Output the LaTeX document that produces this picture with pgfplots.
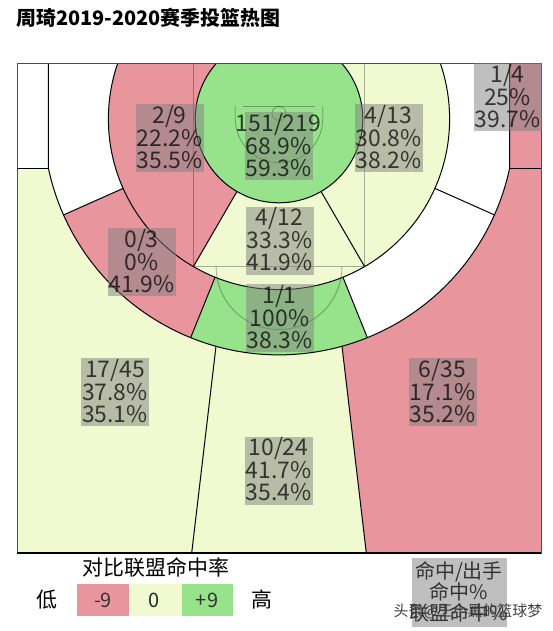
\documentclass[border=0pt]{standalone}
\usepackage{pgfplots}
\pgfplotsset{compat=1.18}
\usepackage{pgfplotstable}
\usepackage{fontspec}
\setmainfont{Noto Sans CJK SC}
\definecolor{zred}{RGB}{232,149,158}
\definecolor{zyel}{RGB}{241,249,208}
\definecolor{zgrn}{RGB}{151,227,139}
\definecolor{boxgray}{RGB}{128,128,128}

% zone label position (px), made/attempts, FG%, league FG%
\pgfplotstableread{
x     y     shot    pct  lg
278.5 146   151/219 68.9 59.3
169.5 138   2/9     22.2 35.5
388.5 138   4/13    30.8 38.2
279.5 240.5 4/12    33.3 41.9
141.5 262   0/3     0    41.9
279.5 318   1/1     100  38.3
115   392   17/45   37.8 35.1
442.5 392   6/35    17.1 35.2
278.5 470.5 10/24   41.7 35.4
507.5 97.5  1/4     25   39.7
}\zonedata

\pgfplotsset{zlabel/.style={draw=none, mark=none, point meta=explicit symbolic,
  every node near coord/.append style={anchor=center, inner sep=0pt,
    text=black, text opacity=0.72, font=\fontsize{23}{22}\selectfont}}}

\begin{document}
\begin{tikzpicture}
\begin{axis}[
  x=1bp, y=1bp, scale only axis,
  xmin=0, xmax=553, ymin=0, ymax=631, y dir=reverse,
  hide axis, clip=false,
]
\path (axis cs:0,0) rectangle (axis cs:553,631);

\begin{scope}
\clip (axis cs:17,64) rectangle (axis cs:541,553);
% three-point zones
\fill[zyel] (axis cs:17,64) rectangle (axis cs:541,553);
\fill[zred] (axis cs:279,119) -- (axis cs:342,346.2) -- (axis cs:366.3,553) -- (axis cs:541,553) -- (axis cs:541,64) -- (axis cs:279,64) -- cycle;
\fill[white] (axis cs:17,64) rectangle (axis cs:48.4,168.3);
% long mid-range ring
\begin{scope}
\clip (axis cs:48.4,64) -- (axis cs:48.4,168.3) arc[start angle=192.06, end angle=347.94, radius=235.8bp] -- (axis cs:509.6,64) -- cycle;
\fill[white] (axis cs:0,0) rectangle (axis cs:553,631);
\fill[zred] (axis cs:279,119) -- +(204:400bp) -- +(248:400bp) -- cycle;
\fill[zgrn] (axis cs:279,119) -- +(248:400bp) -- +(292:400bp) -- cycle;
\end{scope}
% short mid-range ring
\begin{scope}
\clip (axis cs:279,119) circle[radius=170.6bp];
\fill[zyel] (axis cs:0,0) rectangle (axis cs:553,631);
\fill[zred] (axis cs:279,119) -- +(239.89:400bp) -- +(180:400bp) -- +(90:400bp) -- cycle;
\end{scope}
% restricted area
\fill[zgrn] (axis cs:279,119) circle[radius=83.8bp];

% court lines
\begin{scope}[draw=black, draw opacity=0.3, line width=0.8bp]
\draw (axis cs:193.4,64) -- (axis cs:193.4,266.6) -- (axis cs:364.6,266.6) -- (axis cs:364.6,64);
\draw (axis cs:216.1,266.6) arc[start angle=180, end angle=360, radius=62.9bp];
\draw (axis cs:243,106) -- (axis cs:315,106);
\draw (axis cs:279,113.5) circle[radius=7bp];
\draw (axis cs:235.3,106) -- (axis cs:235.3,119) arc[start angle=180, end angle=360, radius=43.7bp] -- (axis cs:322.7,106);
\end{scope}

% zone borders
\begin{scope}[draw=black, line width=1bp]
\draw (axis cs:48.4,64) -- (axis cs:48.4,168.3) arc[start angle=192.06, end angle=347.94, radius=235.8bp] -- (axis cs:509.6,64);
\draw (axis cs:17,168.3) -- (axis cs:48.4,168.3);
\draw (axis cs:509.6,168.3) -- (axis cs:541,168.3);
\draw (axis cs:216,346.2) -- (axis cs:191.7,553);
\draw (axis cs:342,346.2) -- (axis cs:366.3,553);
\draw (axis cs:279,119) circle[radius=170.6bp];
\draw (axis cs:279,119) circle[radius=83.8bp];
\draw (axis cs:279,119) ++(204:170.6bp) -- ++(204:65.2bp);
\draw (axis cs:279,119) ++(248:170.6bp) -- ++(248:65.2bp);
\draw (axis cs:279,119) ++(292:170.6bp) -- ++(292:65.2bp);
\draw (axis cs:279,119) ++(336:170.6bp) -- ++(336:65.2bp);
\draw (axis cs:279,119) ++(239.89:83.8bp) -- ++(239.89:86.8bp);
\draw (axis cs:279,119) ++(300.11:83.8bp) -- ++(300.11:86.8bp);
\end{scope}
\end{scope}
% court border
\draw[gray!60!black, line width=1bp] (axis cs:17,64) rectangle (axis cs:541,553);
\draw[black, line width=2bp] (axis cs:17,553) -- (axis cs:541,553);

% title
\node[anchor=west, inner sep=0pt, font=\bfseries\fontsize{20}{24}\selectfont] at (axis cs:16,18) {周琦2019-2020赛季投篮热图};

% legend
\node[font=\fontsize{21}{25}\selectfont, inner sep=0pt] at (axis cs:156,568) {对比联盟命中率};
\node[font=\fontsize{21}{25}\selectfont, inner sep=0pt] at (axis cs:47,600) {低};
\node[font=\fontsize{21}{25}\selectfont, inner sep=0pt] at (axis cs:262,600) {高};
\fill[zred] (axis cs:77,584) rectangle (axis cs:129,616);
\fill[zyel] (axis cs:129,584) rectangle (axis cs:182,616);
\fill[zgrn] (axis cs:182,584) rectangle (axis cs:233,616);
\node[font=\fontsize{20}{24}\selectfont, text=black!80, inner sep=0pt] at (axis cs:103,600) {-9};
\node[font=\fontsize{20}{24}\selectfont, text=black!85, inner sep=0pt] at (axis cs:154,600) {0};
\node[font=\fontsize{20}{24}\selectfont, text=black!80, inner sep=0pt] at (axis cs:207,600) {+9};
\fill[boxgray, fill opacity=0.5] (axis cs:411.7,558) rectangle (axis cs:506.7,627);
\node[font=\fontsize{20}{21}\selectfont, text=black!80, align=center, inner sep=0pt] at (axis cs:459,591.5) {命中/出手\\命中\%\\联盟命中\%};
\node[font=\fontsize{15}{18}\selectfont, text=black!75, inner sep=0pt] at (axis cs:468,611.7) {头条@王小黑的篮球梦};

% zone label boxes
\addplot[only marks, color=boxgray, mark=square*, mark size=34bp,
  mark options={draw opacity=0, fill=boxgray, fill opacity=0.5}]
  table[x=x, y=y] {\zonedata};
% zone label texts
\addplot[zlabel, nodes near coords,
  every node near coord/.append style={yshift=21.7bp}]
  table[x=x, y=y, meta=shot] {\zonedata};
\addplot[zlabel, nodes near coords={\pgfplotspointmeta\%}]
  table[x=x, y=y, meta=pct] {\zonedata};
\addplot[zlabel, nodes near coords={\pgfplotspointmeta\%},
  every node near coord/.append style={yshift=-21.7bp}]
  table[x=x, y=y, meta=lg] {\zonedata};
\end{axis}
\end{tikzpicture}
\end{document}
